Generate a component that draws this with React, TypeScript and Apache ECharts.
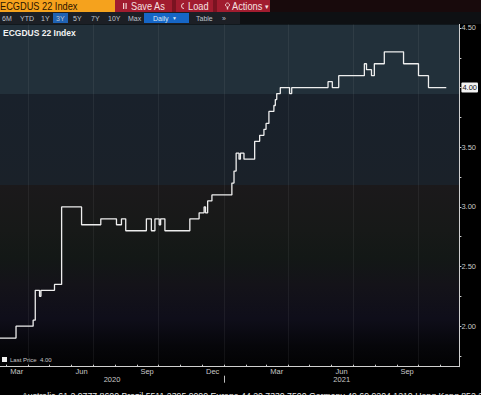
import React, { useEffect, useRef } from 'react';
import * as echarts from 'echarts';

// ---- data ----
const stepDates = [
  '2020-02-21', '2020-03-15', '2020-04-08', '2020-04-11', '2020-04-17', '2020-04-19',
  '2020-05-08', '2020-05-18', '2020-06-15', '2020-07-12', '2020-08-03', '2020-08-10',
  '2020-08-16', '2020-09-14', '2020-09-21', '2020-09-26', '2020-10-02', '2020-10-04',
  '2020-10-10', '2020-11-14', '2020-11-27', '2020-12-04', '2020-12-06', '2020-12-09',
  '2020-12-15', '2021-01-12', '2021-01-15', '2021-01-18', '2021-01-22', '2021-01-24',
  '2021-01-29', '2021-02-13', '2021-02-20', '2021-02-26', '2021-03-01', '2021-03-05',
  '2021-03-12', '2021-03-14', '2021-03-16', '2021-03-21', '2021-04-03', '2021-04-06',
  '2021-05-27', '2021-06-02', '2021-06-11', '2021-07-17', '2021-07-20', '2021-07-27',
  '2021-07-31', '2021-08-14', '2021-09-10', '2021-10-01', '2021-10-15', '2021-11-09',
];
const stepValues = [
  1.90, 2.00, 2.05, 2.30, 2.25, 2.30,
  2.35, 3.00, 2.85, 2.90, 2.85, 2.90,
  2.80, 2.90, 2.80, 2.90, 2.85, 2.90,
  2.80, 2.90, 2.95, 3.00, 2.95, 3.05,
  3.10, 3.20, 3.30, 3.45, 3.40, 3.45,
  3.40, 3.55, 3.60, 3.65, 3.70, 3.80,
  3.85, 3.90, 3.95, 4.00, 3.95, 4.00,
  4.05, 4.00, 4.10, 4.20, 4.15, 4.10,
  4.20, 4.30, 4.20, 4.10, 4.00, 4.00,
];
const monthStarts = [
  '2020-03-01', '2020-04-01', '2020-05-01', '2020-06-01', '2020-07-01', '2020-08-01',
  '2020-09-01', '2020-10-01', '2020-11-01', '2020-12-01', '2021-01-01', '2021-02-01',
  '2021-03-01', '2021-04-01', '2021-05-01', '2021-06-01', '2021-07-01', '2021-08-01',
  '2021-09-01', '2021-10-01', '2021-11-01',
];
const monthLabelDates = ['2020-03-16', '2020-06-15', '2020-09-15', '2020-12-16', '2021-03-16', '2021-06-15', '2021-09-15'];
const monthLabelNames = ['Mar', 'Jun', 'Sep', 'Dec', 'Mar', 'Jun', 'Sep'];
const quarterLines = ['2020-04-01', '2020-07-01', '2020-10-01', '2021-01-01', '2021-04-01', '2021-07-01', '2021-10-01'];
const yearBreaks = ['2021-01-01'];
const yLabelValues = [2.0, 2.5, 3.0, 3.5, 4.0, 4.5];
const yTickValues = [1.75, 2.0, 2.25, 2.5, 2.75, 3.0, 3.25, 3.5, 3.75, 4.0, 4.25, 4.5];
const periodButtons = ['6M', 'YTD', '1Y', '3Y', '5Y', '7Y', '10Y', 'Max'];
const periodX = [2, 20, 41, 56, 73, 91, 108, 128];
const tickerName = 'ECGDUS 22 Index';
const seriesName = 'Last Price';
const footerText = 'Australia 61 2 9777 8600 Brazil 5511 2395 9000 Europe 44 20 7330 7500 Germany 49 69 9204 1210 Hong Kong 852 2977 6000';

const ts = (s: string) => {
  const [y, m, d] = s.split('-').map(Number);
  return new Date(y, m - 1, d).getTime();
};

const X_MIN = new Date(2020, 1, 21, 12).getTime();
const X_MAX = new Date(2021, 10, 27, 10).getTime();

export default function App() {
  const ref = useRef<HTMLDivElement>(null);

  useEffect(() => {
    if (!ref.current) return;
    const chart = echarts.init(ref.current, undefined, { renderer: 'svg' });
    const lineData = stepDates.map((d, i) => [ts(d), stepValues[i]]);
    const lastPrice = stepValues[stepValues.length - 1];
    const monthLabelTs = monthLabelDates.map(ts);
    const monthName = (v: number) => {
      let best = 0;
      let bd = Infinity;
      monthLabelTs.forEach((t, i) => {
        const d = Math.abs(t - v);
        if (d < bd) { bd = d; best = i; }
      });
      return monthLabelNames[best];
    };

    // year label centres over visible span
    const years = [2020, 2021];
    const yearCentres = years.map((y) => {
      const a = Math.max(X_MIN, new Date(y, 0, 1).getTime());
      const b = Math.min(X_MAX, new Date(y + 1, 0, 1).getTime());
      return (a + b) / 2;
    });

    const font = 'Liberation Sans, Arial, sans-serif';
    const btnText = (t: string, x: number) => ({
      type: 'text', x, y: 18, z: 100,
      style: { text: t, fill: '#bfc4cc', font: `7px ${font}`, verticalAlign: 'middle' },
    });
    const row1Text = (t: string, x: number, fill: string) => ({
      type: 'text', z: 100, x, y: 6.5, scaleX: 0.88,
      style: { text: t, fill, font: `10.5px ${font}`, verticalAlign: 'middle' },
    });

    const graphics: any[] = [
      // row 1
      { type: 'rect', z: 90, shape: { x: 0, y: 0, width: 481, height: 12 }, style: { fill: '#180a0c' } },
      { type: 'rect', z: 91, shape: { x: 0, y: 0, width: 115, height: 12 }, style: { fill: '#f5a21d' } },
      row1Text(tickerName, 0, '#2a1400'),
      { type: 'rect', z: 91, shape: { x: 115, y: 0, width: 155, height: 12 }, style: { fill: '#a11c2f' } },
      { type: 'rect', z: 92, shape: { x: 172, y: 0, width: 4, height: 12 }, style: { fill: '#7a1321' } },
      { type: 'rect', z: 92, shape: { x: 213, y: 0, width: 4, height: 12 }, style: { fill: '#7a1321' } },
      { type: 'rect', z: 93, shape: { x: 123, y: 3, width: 1.2, height: 6 }, style: { fill: '#f0d2d2' } },
      { type: 'rect', z: 93, shape: { x: 125.5, y: 3, width: 1.2, height: 6 }, style: { fill: '#f0d2d2' } },
      row1Text('Save As', 131, '#f6e0e0'),
      { type: 'arc', z: 93, shape: { cx: 184, cy: 6, r: 2.5, startAngle: Math.PI * 0.5, endAngle: Math.PI * 1.5 }, style: { stroke: '#f0d2d2', lineWidth: 1, fill: 'none' } },
      row1Text('Load', 188, '#f6e0e0'),
      { type: 'circle', z: 93, shape: { cx: 227.5, cy: 5, r: 2 }, style: { stroke: '#f0d2d2', lineWidth: 0.9, fill: 'none' } },
      { type: 'rect', z: 93, shape: { x: 226.8, y: 7, width: 1.4, height: 2.5 }, style: { fill: '#f0d2d2' } },
      row1Text('Actions', 232, '#f6e0e0'),
      { type: 'text', z: 100, x: 265, y: 6.5, style: { text: '▾', fill: '#f6e0e0', font: `7px ${font}`, verticalAlign: 'middle' } },
      // row 2
      { type: 'rect', z: 90, shape: { x: 0, y: 12, width: 481, height: 12 }, style: { fill: '#0e1013' } },
      { type: 'rect', z: 91, shape: { x: 0, y: 12, width: 240, height: 12 }, style: { fill: '#1c1f25' } },
      { type: 'rect', z: 92, shape: { x: 53, y: 13, width: 15, height: 10 }, style: { fill: '#1f62b4' } },
      { type: 'rect', z: 92, shape: { x: 144, y: 13, width: 45, height: 10 }, style: { fill: '#1666c6' } },
      ...periodButtons.map((t, i) => btnText(t, periodX[i])),
      { type: 'text', z: 100, x: 153, y: 18, style: { text: 'Daily', fill: '#dfe8f5', font: `7px ${font}`, verticalAlign: 'middle' } },
      { type: 'text', z: 100, x: 172, y: 18, style: { text: '▼', fill: '#dfe8f5', font: `5px ${font}`, verticalAlign: 'middle' } },
      { type: 'text', z: 100, x: 196, y: 18, style: { text: 'Table', fill: '#bfc4cc', font: `7px ${font}`, verticalAlign: 'middle' } },
      { type: 'text', z: 100, x: 222, y: 18, style: { text: '»', fill: '#bfc4cc', font: `7px ${font}`, verticalAlign: 'middle' } },
      // row 3 title
      { type: 'text', z: 100, x: 3, y: 33, style: { text: tickerName, fill: '#f2f2f2', font: `bold 8.5px ${font}`, verticalAlign: 'middle' } },
      // footer
      { type: 'text', z: 100, x: 22, y: 390.5, scaleX: 0.92, style: { text: footerText, fill: '#e6e6e6', font: `9.5px ${font}`, verticalAlign: 'top' } },
    ];

    chart.setOption({
      animation: false,
      backgroundColor: '#000000',
      textStyle: { fontFamily: font },
      grid: {
        left: 0, right: 20, top: 24.4, bottom: 28.3,
        show: true, borderWidth: 0,
        backgroundColor: new echarts.graphic.LinearGradient(0, 0, 0, 1, [
          { offset: 0, color: '#22303a' },
          { offset: 0.203, color: '#22303a' },
          { offset: 0.204, color: '#19212b' },
          { offset: 0.468, color: '#1a2129' },
          { offset: 0.47, color: '#1b191b' },
          { offset: 0.6, color: '#171918' },
          { offset: 0.68, color: '#131816' },
          { offset: 0.76, color: '#141319' },
          { offset: 0.86, color: '#0f0e1a' },
          { offset: 0.94, color: '#06060a' },
          { offset: 1, color: '#020203' },
        ]),
      },
      legend: {
        show: true, left: 2, top: 356.5, padding: 0,
        icon: 'rect', itemWidth: 5, itemHeight: 5, itemGap: 4,
        data: [seriesName],
        textStyle: { color: '#c8c8c8', fontSize: 6, padding: [0, 0, 0, -2] },
        formatter: (n: string) => `${n}  ${lastPrice.toFixed(2)}`,
      },
      xAxis: [
        {
          type: 'value', min: X_MIN, max: X_MAX, position: 'bottom',
          axisLine: { show: true, lineStyle: { color: '#cfcfcf', width: 1 } },
          axisTick: { show: true, inside: true, length: 2, customValues: monthStarts.map(ts), lineStyle: { color: '#cfcfcf' } },
          axisLabel: {
            show: true, customValues: monthLabelTs, margin: 1,
            color: '#c8c8c8', fontSize: 7.5,
            formatter: (v: number) => monthName(v),
          },
          splitLine: { show: false },
        },
        {
          type: 'value', min: X_MIN, max: X_MAX, position: 'bottom', offset: 9,
          axisLine: { show: false },
          axisTick: { show: true, inside: false, length: 7, customValues: yearBreaks.map(ts), lineStyle: { color: '#bdbdbd' } },
          axisLabel: {
            show: true, customValues: yearCentres, margin: 0,
            color: '#c8c8c8', fontSize: 7.5,
            formatter: (v: number) => String(new Date(v).getFullYear()),
          },
          splitLine: { show: false },
        },
      ],
      yAxis: {
        type: 'value', position: 'right', min: 1.66, max: 4.53,
        axisLine: { show: true, lineStyle: { color: '#cfcfcf', width: 1 } },
        axisTick: { show: true, inside: false, length: 2, customValues: yTickValues, lineStyle: { color: '#cfcfcf' } },
        axisLabel: {
          show: true, customValues: yLabelValues, margin: 2,
          color: '#c8c8c8', fontSize: 7.5,
          formatter: (v: number) => (Math.abs(v - lastPrice) < 1e-9 ? `{hl|${v.toFixed(2)}}` : v.toFixed(2)),
          rich: {
            hl: { backgroundColor: '#f2f2f2', color: '#111111', fontSize: 7.5, padding: [1, 1, 1, 1], borderRadius: 1 },
          },
        },
        splitLine: { show: false },
      },
      series: [
        {
          name: seriesName,
          type: 'line',
          step: 'end',
          data: lineData,
          showSymbol: false,
          symbol: 'none',
          color: '#f0f0f0',
          lineStyle: { color: '#eeeeee', width: 1.3 },
          markLine: {
            silent: true,
            symbol: 'none',
            label: { show: false },
            lineStyle: { color: 'rgba(255,255,255,0.06)', width: 1, type: 'solid' },
            data: quarterLines.map((d) => ({ xAxis: ts(d) })),
          },
          z: 5,
        },
      ],
      graphic: graphics,
    });
    return () => chart.dispose();
  }, []);

  return (
    <div
      ref={ref}
      style={{ position: 'fixed', left: 0, top: 0, width: 481, height: 395 }}
    />
  );
}
